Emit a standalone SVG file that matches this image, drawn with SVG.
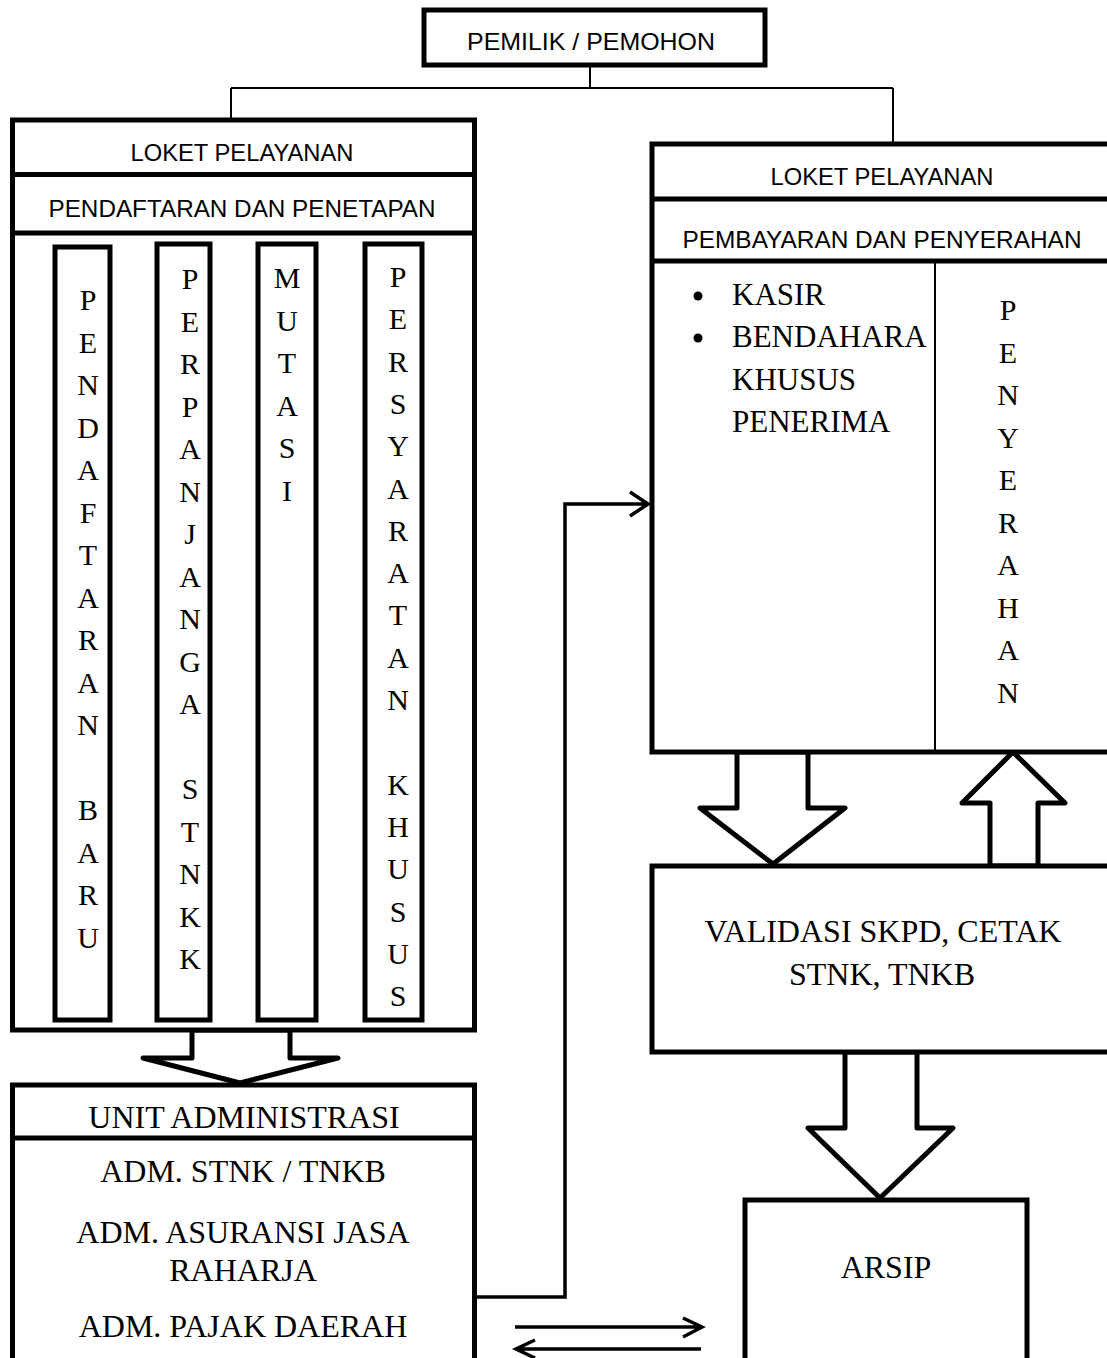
<svg xmlns="http://www.w3.org/2000/svg" width="1107" height="1358" viewBox="0 0 1107 1358">
<defs>
<style>
.box{fill:#fff;stroke:#000;stroke-width:5}
.col{fill:#fff;stroke:#000;stroke-width:5}
.div{stroke:#000;stroke-width:5}
.thin{fill:none;stroke:#000;stroke-width:2}
.blk{fill:#fff;stroke:#000;stroke-width:5;stroke-linejoin:round}
.ln{fill:none;stroke:#000;stroke-width:3.5}
.sans{font-family:"Liberation Sans",Arial,sans-serif;font-size:24px;fill:#000;text-anchor:middle}
.serif{font-family:"Liberation Serif","Times New Roman",serif;font-size:30px;fill:#000}
.big{font-size:32px}
.list{font-size:31px}
.mid{text-anchor:middle}
</style>
</defs>
<rect width="1107" height="1358" fill="#fff"/>

<g id="connectors">
<path class="thin" d="M590 65V88M231 88H893M231 88V120M893 88V145"/>
<path class="ln" d="M475 1297H565V504H648M630 492L648 504L630 516"/>
<path class="ln" d="M515 1327H702M683 1318L702 1327L683 1337"/>
<path class="ln" d="M701 1349H516M535 1340L516 1349L535 1358"/>
<polygon class="blk" points="192,1030 192,1058 143,1058 240,1083 338,1058 290,1058 290,1030"/>
<polygon class="blk" points="737,752 737,808 700,808 773,864 845,808 808,808 808,752"/>
<polygon class="blk" points="990,866 990,803 962,803 1013,752 1065,803 1038,803 1038,866"/>
<polygon class="blk" points="845,1052 845,1128 808,1128 880,1198 953,1128 917,1128 917,1052"/>
</g>

<g id="pemilik">
<rect class="box" x="424" y="10" width="341" height="55"/>
<text class="sans" x="591" y="50" textLength="248" lengthAdjust="spacingAndGlyphs">PEMILIK / PEMOHON</text>
</g>

<g id="loket-pendaftaran">
<rect class="box" x="12.5" y="120" width="462" height="910"/>
<line class="div" x1="12.5" y1="174.5" x2="474.5" y2="174.5"/>
<line class="div" x1="12.5" y1="233" x2="474.5" y2="233"/>
<text class="sans" x="242" y="161" textLength="223" lengthAdjust="spacingAndGlyphs">LOKET PELAYANAN</text>
<text class="sans" x="242" y="217" textLength="387" lengthAdjust="spacingAndGlyphs">PENDAFTARAN DAN PENETAPAN</text>
</g>

<g id="col-pendaftaran-baru">
<rect class="col" x="55" y="247" width="55" height="773"/>
<text class="serif mid" x="88">
<tspan x="88" y="310">P</tspan><tspan x="88" y="352.5">E</tspan><tspan x="88" y="395">N</tspan><tspan x="88" y="437.5">D</tspan><tspan x="88" y="480">A</tspan><tspan x="88" y="522.5">F</tspan><tspan x="88" y="565">T</tspan><tspan x="88" y="607.5">A</tspan><tspan x="88" y="650">R</tspan><tspan x="88" y="692.5">A</tspan><tspan x="88" y="735">N</tspan><tspan x="88" y="820">B</tspan><tspan x="88" y="862.5">A</tspan><tspan x="88" y="905">R</tspan><tspan x="88" y="947.5">U</tspan>
</text>
</g>

<g id="col-perpanjangan">
<rect class="col" x="157" y="244" width="53" height="776"/>
<text class="serif mid" x="190">
<tspan x="190" y="289">P</tspan><tspan x="190" y="331.5">E</tspan><tspan x="190" y="374">R</tspan><tspan x="190" y="416.5">P</tspan><tspan x="190" y="459">A</tspan><tspan x="190" y="501.5">N</tspan><tspan x="190" y="544">J</tspan><tspan x="190" y="586.5">A</tspan><tspan x="190" y="629">N</tspan><tspan x="190" y="671.5">G</tspan><tspan x="190" y="714">A</tspan><tspan x="190" y="799">S</tspan><tspan x="190" y="841.5">T</tspan><tspan x="190" y="884">N</tspan><tspan x="190" y="926.5">K</tspan><tspan x="190" y="969">K</tspan>
</text>
</g>

<g id="col-mutasi">
<rect class="col" x="258" y="244" width="58" height="776"/>
<text class="serif mid" x="287">
<tspan x="287" y="288">M</tspan><tspan x="287" y="330.5">U</tspan><tspan x="287" y="373">T</tspan><tspan x="287" y="415.5">A</tspan><tspan x="287" y="458">S</tspan><tspan x="287" y="500.5">I</tspan>
</text>
</g>

<g id="col-persyaratan">
<rect class="col" x="365" y="244" width="57" height="776"/>
<text class="serif mid" x="398">
<tspan x="398" y="287">P</tspan><tspan x="398" y="329.3">E</tspan><tspan x="398" y="371.6">R</tspan><tspan x="398" y="413.9">S</tspan><tspan x="398" y="456.2">Y</tspan><tspan x="398" y="498.5">A</tspan><tspan x="398" y="540.8">R</tspan><tspan x="398" y="583.1">A</tspan><tspan x="398" y="625.4">T</tspan><tspan x="398" y="667.7">A</tspan><tspan x="398" y="710">N</tspan><tspan x="398" y="794.6">K</tspan><tspan x="398" y="836.9">H</tspan><tspan x="398" y="879.2">U</tspan><tspan x="398" y="921.5">S</tspan><tspan x="398" y="963.8">U</tspan><tspan x="398" y="1006.1">S</tspan>
</text>
</g>

<g id="loket-pembayaran">
<rect class="box" x="652" y="144" width="470" height="608"/>
<line class="div" x1="652" y1="199" x2="1110" y2="199"/>
<line class="div" x1="652" y1="261" x2="1110" y2="261"/>
<line class="thin" x1="935" y1="261" x2="935" y2="752"/>
<text class="sans" x="882" y="185" textLength="223" lengthAdjust="spacingAndGlyphs">LOKET PELAYANAN</text>
<text class="sans" x="882" y="248" textLength="399" lengthAdjust="spacingAndGlyphs">PEMBAYARAN DAN PENYERAHAN</text>
<circle cx="698" cy="296" r="4.5"/>
<circle cx="698" cy="338" r="4.5"/>
<text class="serif list" x="732" y="305">KASIR</text>
<text class="serif list" x="732" y="347">BENDAHARA</text>
<text class="serif list" x="732" y="390">KHUSUS</text>
<text class="serif list" x="732" y="432">PENERIMA</text>
<text class="serif mid" x="1008">
<tspan x="1008" y="320">P</tspan><tspan x="1008" y="362.5">E</tspan><tspan x="1008" y="405">N</tspan><tspan x="1008" y="447.5">Y</tspan><tspan x="1008" y="490">E</tspan><tspan x="1008" y="532.5">R</tspan><tspan x="1008" y="575">A</tspan><tspan x="1008" y="617.5">H</tspan><tspan x="1008" y="660">A</tspan><tspan x="1008" y="702.5">N</tspan>
</text>
</g>

<g id="validasi">
<rect class="box" x="652" y="866" width="470" height="186"/>
<text class="serif big mid" x="883" y="942">VALIDASI SKPD, CETAK</text>
<text class="serif big mid" x="882" y="985">STNK, TNKB</text>
</g>

<g id="unit-administrasi">
<rect class="box" x="12.5" y="1085" width="462" height="290"/>
<line class="div" x1="12.5" y1="1138" x2="474.5" y2="1138"/>
<text class="serif big mid" x="244" y="1128">UNIT ADMINISTRASI</text>
<text class="serif big mid" x="243" y="1182">ADM. STNK / TNKB</text>
<text class="serif big mid" x="243" y="1243">ADM. ASURANSI JASA</text>
<text class="serif big mid" x="243" y="1281">RAHARJA</text>
<text class="serif big mid" x="243" y="1337">ADM. PAJAK DAERAH</text>
</g>

<g id="arsip">
<rect class="box" x="745" y="1200" width="282" height="180"/>
<text class="serif big mid" x="886" y="1278">ARSIP</text>
</g>
</svg>
